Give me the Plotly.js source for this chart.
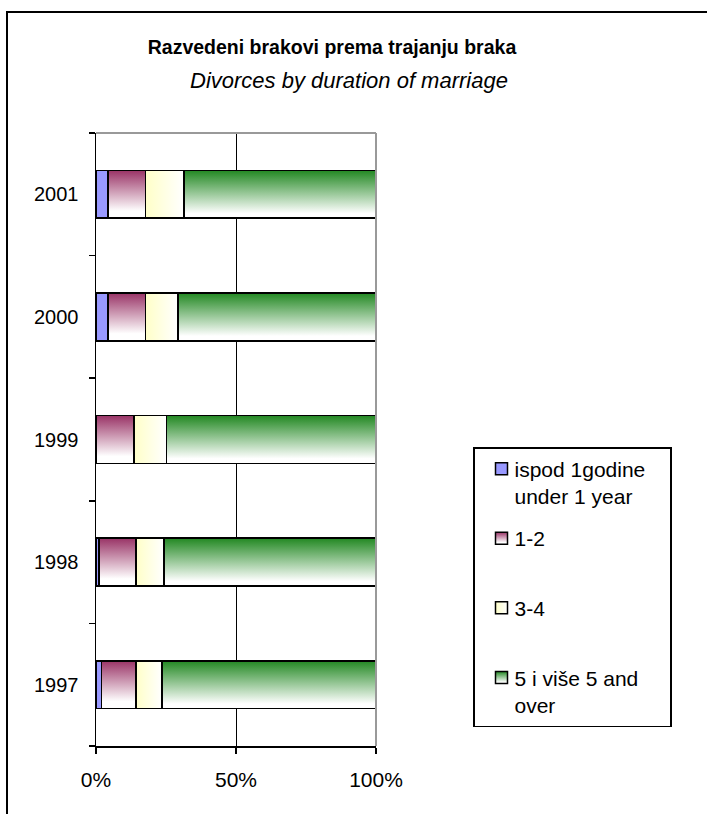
<!DOCTYPE html>
<html>
<head>
<meta charset="utf-8">
<script src="https://cdn.plot.ly/plotly-3.0.1.min.js"></script>
<style>
  html, body { margin: 0; padding: 0; background: #fff; overflow: hidden; }
  #chart { width: 707px; height: 814px; position: absolute; left: 0; top: 0; }
  #frame { position: absolute; left: 6px; top: 11px; width: 900px; height: 1000px;
           border-left: 2px solid #000; border-top: 2px solid #000; pointer-events: none; }
</style>
</head>
<body>
<div id="chart"></div>
<div id="frame"></div>
<script>
// ---- data (percent of divorces by duration of marriage) ----
const years = ['1997', '1998', '1999', '2000', '2001'];
const under1 = [2.0, 1.1, 0.0, 4.2, 4.2];
const y1to2 = [12.3, 13.2, 13.6, 13.5, 13.5];
const y3to4 = [9.3, 10.0, 11.5, 11.6, 13.7];
const y5plus = [76.4, 75.7, 74.9, 70.7, 68.6];
const seriesNames = ['ispod 1godine<br>under 1 year', '1-2<br>\u00a0', '3-4<br>\u00a0', '5 i više 5 and<br>over'];
const xTickVals = [0, 50, 100];
const xTickText = ['0%', '50%', '100%'];

const FONT = 'Liberation Sans, Arial, sans-serif';
const baseColors = ['#9999FF', '#993366', '#FFFFCC', '#228822'];
const seriesValues = [under1, y1to2, y3to4, y5plus];

const traces = seriesValues.map((vals, i) => ({
  type: 'bar',
  orientation: 'h',
  name: seriesNames[i],
  y: years,
  x: vals,
  legendgroup: 'g' + i,
  marker: { color: baseColors[i], line: { color: '#000', width: 1.5 } },
  hoverinfo: 'none'
}));

const layout = {
  width: 707, height: 814,
  paper_bgcolor: '#fff', plot_bgcolor: '#fff',
  margin: { l: 96, r: 331, t: 133, b: 68 },
  barmode: 'stack',
  bargap: 0.61,
  font: { family: FONT, color: '#000', size: 20 },
  title: {
    text: '<b>Razvedeni brakovi prema trajanju braka</b>',
    font: { family: FONT, size: 19.5, color: '#000' },
    x: 332 / 707, xref: 'container', xanchor: 'center',
    y: 1 - 47 / 814, yref: 'container', yanchor: 'middle'
  },
  annotations: [{
    text: '<i>Divorces by duration of marriage</i>',
    xref: 'paper', yref: 'paper',
    x: (349 - 96) / 280, y: (746 - 80) / 613,
    xanchor: 'center', yanchor: 'middle', showarrow: false,
    font: { family: FONT, size: 22, color: '#000' }
  }],
  xaxis: {
    range: [0, 100], fixedrange: true,
    tickmode: 'array', tickvals: xTickVals, ticktext: xTickText,
    ticks: 'outside', ticklen: 6, tickwidth: 1.5, tickcolor: '#000',
    showline: true, linecolor: '#000', linewidth: 1.5,
    showgrid: true, gridcolor: '#000', gridwidth: 1,
    zeroline: false,
    tickfont: { family: FONT, size: 21, color: '#000' },
    ticklabelstandoff: 8
  },
  yaxis: {
    type: 'category', categoryorder: 'array', categoryarray: years, fixedrange: true,
    tickson: 'boundaries',
    ticks: 'outside', ticklen: 6, tickwidth: 1.5, tickcolor: '#000',
    showline: true, linecolor: '#000', linewidth: 1.5,
    showgrid: false, zeroline: false,
    tickfont: { family: FONT, size: 20, color: '#000' },
    ticklabelstandoff: 12
  },
  shapes: [
    { type: 'line', xref: 'paper', yref: 'paper', x0: 0, x1: 1, y0: 1, y1: 1,
      line: { color: '#999', width: 2 }, layer: 'above' },
    { type: 'line', xref: 'paper', yref: 'paper', x0: 1, x1: 1, y0: 0, y1: 1,
      line: { color: '#999', width: 2 }, layer: 'above' }
  ],
  showlegend: true,
  legend: {
    x: (473 - 96) / 280, xanchor: 'left',
    y: (746 - 447) / 613, yanchor: 'top',
    bordercolor: '#000', borderwidth: 1.5, bgcolor: '#fff',
    font: { family: FONT, size: 21, color: '#000' },
    traceorder: 'grouped', tracegroupgap: 12,
    valign: 'top', itemwidth: 30
  }
};

const LEGEND_BOX_WIDTH = 197;
const gd = document.getElementById('chart');

function applyGradients() {
  const svg = gd.querySelector('svg.main-svg');
  if (!svg) return;
  const NS = 'http://www.w3.org/2000/svg';
  if (!svg.querySelector('#custgrads')) {
    const defs = document.createElementNS(NS, 'defs');
    defs.setAttribute('id', 'custgrads');
    const mk = (id, x2, y2, stops) => {
      const g = document.createElementNS(NS, 'linearGradient');
      g.setAttribute('id', id);
      g.setAttribute('x1', '0'); g.setAttribute('y1', '0');
      g.setAttribute('x2', x2); g.setAttribute('y2', y2);
      stops.forEach(s => {
        const st = document.createElementNS(NS, 'stop');
        st.setAttribute('offset', s[0]);
        st.setAttribute('stop-color', s[1]);
        g.appendChild(st);
      });
      defs.appendChild(g);
    };
    mk('gPink', '0', '1', [['0', '#993366'], ['0.85', '#ffffff'], ['1', '#ffffff']]);
    mk('gYellow', '1', '0', [['0', '#FFFFC8'], ['1', '#ffffff']]);
    mk('gGreen', '0', '1', [['0', '#228822'], ['0.9', '#ffffff'], ['1', '#ffffff']]);
    svg.insertBefore(defs, svg.firstChild);
  }
  const fills = [null, 'url(#gPink)', 'url(#gYellow)', 'url(#gGreen)'];
  gd.querySelectorAll('.barlayer .trace.bars').forEach((t, i) => {
    const f = fills[i];
    if (!f) return;
    t.querySelectorAll('path').forEach(p => { p.style.fill = f; });
  });
  gd.querySelectorAll('.legend .traces').forEach(el => {
    const d = el.__data__;
    let idx = null;
    try { idx = d[0].trace.index; } catch (e) {}
    const lp = el.querySelector('.legendpoints');
    if (lp) lp.setAttribute('transform', 'translate(7,0)');
    if (idx == null) return;
    const f = fills[idx];
    if (!f) return;
    el.querySelectorAll('.legendpoints path').forEach(p => { p.style.fill = f; });
  });
  const bg = gd.querySelector('.legend rect.bg');
  if (bg) bg.setAttribute('width', LEGEND_BOX_WIDTH);
}

Plotly.newPlot(gd, traces, layout, { displayModeBar: false, staticPlot: true }).then(() => {
  applyGradients();
  gd.on('plotly_afterplot', applyGradients);
});
</script>
</body>
</html>
